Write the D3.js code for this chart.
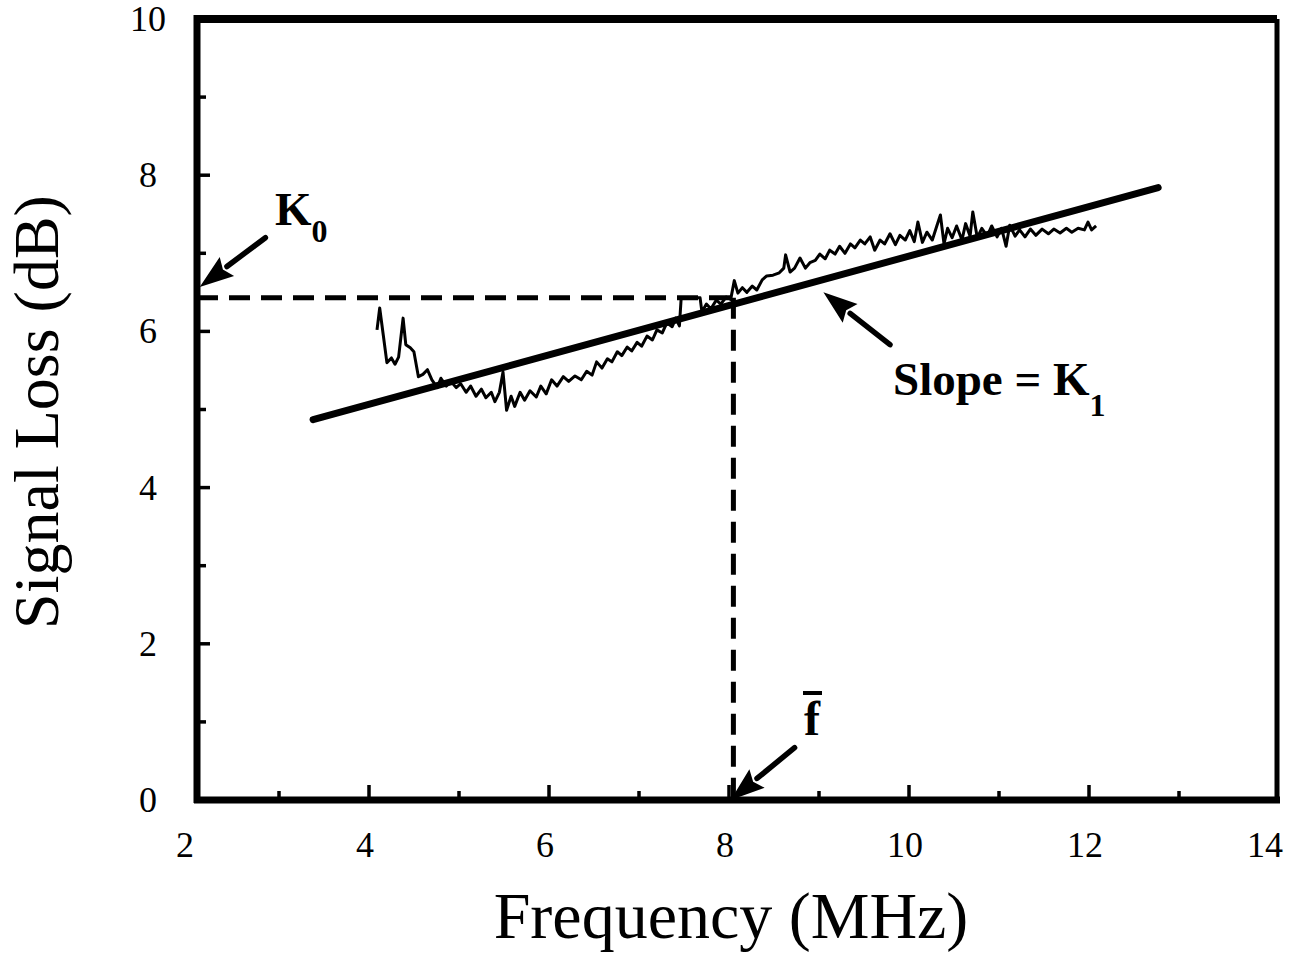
<!DOCTYPE html>
<html>
<head>
<meta charset="utf-8">
<script src="https://cdn.jsdelivr.net/npm/d3@7"></script>
<style>
  html, body { margin: 0; padding: 0; background: #fff; }
  svg { display: block; font-family: "Liberation Serif", "Times New Roman", serif; }
</style>
</head>
<body>
<svg width="1289" height="958"></svg>
<script>
// Signal loss vs frequency, measured trace + fitted line

var traceF = [4.00, 4.03, 4.07, 4.11, 4.16, 4.20, 4.24, 4.29, 4.32, 4.37, 4.41, 4.46, 4.51, 4.56, 4.61, 4.67, 4.71, 4.77, 4.82, 4.88,
  4.93, 4.99, 5.04, 5.10, 5.16, 5.21, 5.27, 5.31, 5.36, 5.40, 5.44, 5.49, 5.53, 5.59, 5.64, 5.70, 5.77, 5.82, 5.88, 5.94,
  6.00, 6.07, 6.13, 6.20, 6.27, 6.33, 6.39, 6.44, 6.50, 6.56, 6.61, 6.67, 6.72, 6.78, 6.83, 6.89, 6.94, 7.00, 7.06, 7.11,
  7.17, 7.22, 7.28, 7.32, 7.36, 7.38, 7.59, 7.61, 7.66, 7.71, 7.77, 7.82, 7.88, 7.93, 7.97, 8.01, 8.06, 8.11, 8.17, 8.22,
  8.28, 8.33, 8.40, 8.47, 8.52, 8.54, 8.59, 8.64, 8.70, 8.76, 8.81, 8.87, 8.92, 8.98, 9.03, 9.09, 9.14, 9.20, 9.26, 9.31,
  9.37, 9.42, 9.48, 9.53, 9.59, 9.64, 9.70, 9.76, 9.81, 9.87, 9.92, 9.97, 10.01, 10.06, 10.11, 10.17, 10.22, 10.26, 10.30, 10.34,
  10.39, 10.44, 10.50, 10.54, 10.59, 10.62, 10.67, 10.72, 10.78, 10.83, 10.89, 10.94, 10.99, 11.03, 11.09, 11.14, 11.20, 11.26, 11.32, 11.39,
  11.46, 11.52, 11.59, 11.66, 11.72, 11.79, 11.86, 11.90, 11.94, 11.99];
var traceV = [6.02, 6.30, 5.95, 5.60, 5.66, 5.58, 5.67, 6.17, 5.83, 5.79, 5.74, 5.42, 5.45, 5.51, 5.38, 5.28, 5.40, 5.30, 5.36, 5.28,
  5.33, 5.22, 5.30, 5.17, 5.26, 5.15, 5.22, 5.10, 5.22, 5.48, 4.99, 5.17, 5.04, 5.22, 5.12, 5.24, 5.16, 5.30, 5.20, 5.38,
  5.30, 5.42, 5.36, 5.43, 5.38, 5.49, 5.44, 5.61, 5.53, 5.65, 5.61, 5.74, 5.69, 5.80, 5.75, 5.86, 5.81, 5.94, 5.89, 6.02,
  5.98, 6.11, 6.06, 6.17, 6.07, 6.43, 6.43, 6.25, 6.35, 6.29, 6.40, 6.35, 6.44, 6.41, 6.65, 6.49, 6.56, 6.50, 6.58, 6.53,
  6.66, 6.71, 6.72, 6.75, 6.81, 6.98, 6.76, 6.81, 6.94, 6.81, 6.88, 6.91, 6.99, 6.93, 7.04, 6.99, 7.09, 7.00, 7.12, 7.07,
  7.17, 7.12, 7.21, 7.04, 7.17, 7.12, 7.25, 7.11, 7.23, 7.17, 7.29, 7.15, 7.40, 7.14, 7.27, 7.17, 7.35, 7.49, 7.12, 7.32,
  7.20, 7.35, 7.17, 7.38, 7.22, 7.53, 7.20, 7.32, 7.22, 7.35, 7.21, 7.32, 7.09, 7.36, 7.22, 7.30, 7.21, 7.31, 7.23, 7.31,
  7.25, 7.31, 7.26, 7.32, 7.27, 7.32, 7.30, 7.40, 7.30, 7.35];

// fitted straight line (end points)
var fitF = [3.29, 12.68];
var fitV = [4.87, 7.84];

// reference values K0 and mean frequency
var k0 = 6.43;
var fBar = 7.96;

// axis ticks
var xTicks = [2, 4, 6, 8, 10, 12, 14];
var xMinor = [3, 5, 7, 9, 11, 13];
var yTicks = [0, 2, 4, 6, 8, 10];
var yMinor = [1, 3, 5, 7, 9];

// annotation arrows [tailF, tailV, tipF, tipV]
var arrowK0 = [2.76, 7.20, 2.03, 6.57];
var arrowSlope = [9.70, 5.83, 8.96, 6.50];
var arrowFbar = [8.64, 0.67, 7.93, 0.0];

var svg = d3.select("svg"),
  x = d3.scaleLinear().domain([2, 14]).range([197, 1277]),
  y = d3.scaleLinear().domain([0, 10]).range([800, 19]),
  g = svg.append("g");

// dashed guide lines for K0 and f-bar
g.append("line")
  .attr("x1", x(2)).attr("x2", x(fBar))
  .attr("y1", y(k0)).attr("y2", y(k0))
  .attr("stroke", "#000").attr("stroke-width", 5)
  .attr("stroke-dasharray", "21,11");
g.append("line")
  .attr("x1", x(fBar)).attr("x2", x(fBar))
  .attr("y1", y(k0)).attr("y2", y(0))
  .attr("stroke", "#000").attr("stroke-width", 5)
  .attr("stroke-dasharray", "21,11");

// measured trace
var traceLine = d3.line()
  .x(function (d) { return x(d[0]); })
  .y(function (d) { return y(d[1]); });

g.append("path")
  .datum(d3.zip(traceF, traceV))
  .attr("d", traceLine)
  .attr("fill", "none")
  .attr("stroke", "#000")
  .attr("stroke-width", 3)
  .attr("stroke-linejoin", "round");

// fitted line
g.append("path")
  .datum(d3.zip(fitF, fitV))
  .attr("d", traceLine)
  .attr("fill", "none")
  .attr("stroke", "#000")
  .attr("stroke-width", 7)
  .attr("stroke-linecap", "round");

// frame
g.append("line").attr("x1", x(2)).attr("x2", x(2)).attr("y1", y(0) + 3).attr("y2", y(10) - 4)
  .attr("stroke", "#000").attr("stroke-width", 7);
g.append("line").attr("x1", x(2)).attr("x2", x(14)).attr("y1", y(10)).attr("y2", y(10))
  .attr("stroke", "#000").attr("stroke-width", 8);
g.append("line").attr("x1", x(2) - 3).attr("x2", x(14) + 3).attr("y1", y(0)).attr("y2", y(0))
  .attr("stroke", "#000").attr("stroke-width", 7);
g.append("line").attr("x1", x(14)).attr("x2", x(14)).attr("y1", y(0)).attr("y2", y(10))
  .attr("stroke", "#000").attr("stroke-width", 5);

// ticks, inside the frame
g.selectAll(".ytick")
  .data(yTicks.filter(function (d) { return d > 0 && d < 10; }).concat(yMinor))
  .enter().append("line")
  .attr("class", "ytick")
  .attr("x1", x(2))
  .attr("x2", function (d) { return x(2) + (d % 2 === 0 ? 13 : 9); })
  .attr("y1", function (d) { return y(d); })
  .attr("y2", function (d) { return y(d); })
  .attr("stroke", "#000").attr("stroke-width", 3.5);

g.selectAll(".xtick")
  .data(xTicks.filter(function (d) { return d > 2 && d < 14; }).concat(xMinor))
  .enter().append("line")
  .attr("class", "xtick")
  .attr("x1", function (d) { return x(d) - 8; })
  .attr("x2", function (d) { return x(d) - 8; })
  .attr("y1", y(0))
  .attr("y2", function (d) { return y(0) - (d % 2 === 0 ? 15 : 9); })
  .attr("stroke", "#000").attr("stroke-width", 3.5);

// tick labels
g.selectAll(".xlabel")
  .data(xTicks)
  .enter().append("text")
  .attr("class", "xlabel")
  .attr("x", function (d) { return x(d) - 12; })
  .attr("y", 857)
  .attr("text-anchor", "middle")
  .attr("font-size", 36)
  .text(function (d) { return d; });

g.selectAll(".ylabel")
  .data(yTicks)
  .enter().append("text")
  .attr("class", "ylabel")
  .attr("x", 148)
  .attr("y", function (d) { return y(d) + 12; })
  .attr("text-anchor", "middle")
  .attr("font-size", 36)
  .text(function (d) { return d; });

// axis titles
svg.append("text")
  .attr("x", 731)
  .attr("y", 938)
  .attr("text-anchor", "middle")
  .attr("font-size", 66)
  .text("Frequency (MHz)");

svg.append("text")
  .attr("transform", "translate(58,412) rotate(-90)")
  .attr("text-anchor", "middle")
  .attr("font-size", 64)
  .text("Signal Loss (dB)");

// arrows with filled heads
function drawArrow(a) {
  var x1 = x(a[0]), y1 = y(a[1]), x2 = x(a[2]), y2 = y(a[3]),
    dx = x2 - x1, dy = y2 - y1,
    len = Math.sqrt(dx * dx + dy * dy),
    ux = dx / len, uy = dy / len,
    head = 34, half = 12,
    bx = x2 - ux * head, by = y2 - uy * head;
  g.append("line")
    .attr("x1", x1).attr("y1", y1)
    .attr("x2", bx).attr("y2", by)
    .attr("stroke", "#000").attr("stroke-width", 5.5)
    .attr("stroke-linecap", "round");
  g.append("path")
    .attr("d", "M" + x2 + "," + y2 +
      "L" + (bx - uy * half) + "," + (by + ux * half) +
      "L" + (bx + ux * 5) + "," + (by + uy * 5) +
      "L" + (bx + uy * half) + "," + (by - ux * half) + "Z")
    .attr("fill", "#000");
}
drawArrow(arrowK0);
drawArrow(arrowSlope);
drawArrow(arrowFbar);

// annotation text
var k0Label = svg.append("text")
  .attr("x", 275).attr("y", 225)
  .attr("font-size", 47).attr("font-weight", "bold");
k0Label.append("tspan").text("K");
k0Label.append("tspan").attr("font-size", 32).attr("dy", 17).text("0");

var slopeLabel = svg.append("text")
  .attr("x", 893).attr("y", 395)
  .attr("font-size", 47).attr("font-weight", "bold");
slopeLabel.append("tspan").text("Slope = K");
slopeLabel.append("tspan").attr("font-size", 32).attr("dy", 21).text("1");

svg.append("text")
  .attr("x", 804).attr("y", 735)
  .attr("font-size", 48).attr("font-weight", "bold")
  .text("f");
svg.append("line")
  .attr("x1", 803).attr("x2", 822)
  .attr("y1", 693).attr("y2", 693)
  .attr("stroke", "#000").attr("stroke-width", 4);
</script>
</body>
</html>
